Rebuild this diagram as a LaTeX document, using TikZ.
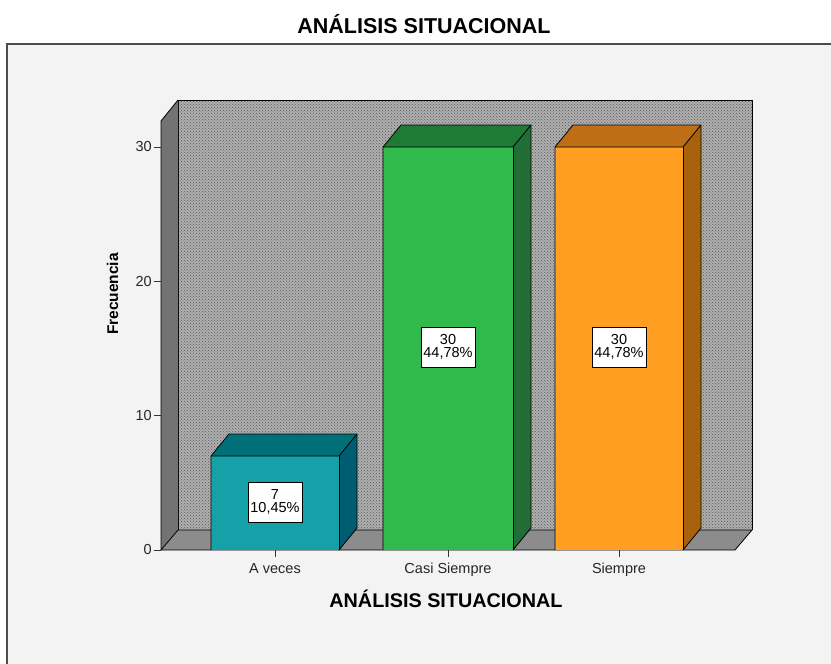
\documentclass[tikz,border=0pt]{standalone}
\usepackage{fontspec}
\setmainfont{Liberation Sans}
\usetikzlibrary{patterns}
\definecolor{bgarea}{RGB}{243,243,243}
\definecolor{wallc}{RGB}{175,175,175}
\definecolor{walldot}{RGB}{85,85,85}
\definecolor{sidewall}{RGB}{115,115,115}
\definecolor{floorc}{RGB}{140,140,140}
\definecolor{tealF}{RGB}{22,160,168}
\definecolor{tealT}{RGB}{0,112,120}
\definecolor{tealS}{RGB}{0,92,112}
\definecolor{greenF}{RGB}{48,186,76}
\definecolor{greenT}{RGB}{30,122,52}
\definecolor{greenS}{RGB}{34,108,54}
\definecolor{orangeF}{RGB}{255,158,32}
\definecolor{orangeT}{RGB}{190,110,20}
\definecolor{orangeS}{RGB}{168,98,14}
\tikzset{
  edge3d/.style={draw=black, line width=0.8pt, line join=round},
  vallabel/.style={draw=black, fill=white, line width=0.6pt, font=\fontsize{14.5}{13}\selectfont, align=center, inner xsep=2.5pt, inner ysep=7.5pt},
  ticklab/.style={font=\fontsize{14.5}{16}\selectfont, text=black!85},
  ylab/.style={font=\fontsize{14.5}{16}\selectfont, text=black!85, anchor=east, inner sep=1pt},
  tickline/.style={draw=black!80, line width=0.8pt}
}
\newcommand{\bardraw}[4]{%
  % #1 left x, #2 right x, #3 top y, #4 colour prefix
  \fill[#4F] (#1,550) rectangle (#2,#3);
  \fill[#4T] (#1,#3) -- ++(18,-22) -- (#2+18,#3-22) -- (#2,#3) -- cycle;
  \fill[#4S] (#2,#3) -- (#2+18,#3-22) -- (#2+18,528) -- (#2,550) -- cycle;
  \draw[edge3d] (#1,550) -- (#1,#3) -- (#1+18,#3-22) -- (#2+18,#3-22) -- (#2+18,528) -- (#2,550);
  \draw[edge3d] (#1,#3) -- (#2,#3) -- (#2+18,#3-22);
  \draw[edge3d] (#2,#3) -- (#2,550);
}
\begin{document}
\begin{tikzpicture}[x=1pt,y=-1pt]
\useasboundingbox (0,0) rectangle (831,664);
\fill[white] (0,0) rectangle (831,664);
% chart frame
\fill[bgarea] (7,44) rectangle (831,664);
\draw[black!70, line width=1.2pt] (7,664) -- (7,44) -- (831,44);
% title
\node[font=\bfseries\fontsize{21.5}{23}\selectfont, anchor=base] (title) at (424,33) {ANÁLISIS SITUACIONAL};
% back wall
\fill[wallc] (178,100) rectangle (752,530);
\fill[pattern=crosshatch dots, pattern color=walldot] (178,100) rectangle (752,530);
\draw[black, line width=0.8pt] (178,530) -- (178,100) -- (752,100) -- (752,530);
% left wall
\fill[sidewall] (161,550) -- (161,121) -- (178,100) -- (178,530) -- cycle;
\draw[edge3d] (161,550) -- (161,121) -- (178,100);
% floor
\fill[floorc] (161,550) -- (735,550) -- (752,530) -- (178,530) -- cycle;
\draw[edge3d] (161,550) -- (735,550) -- (752,530) -- (178,530) -- (161,550);
% bars
\bardraw{211}{339}{456}{teal}
\bardraw{383}{513}{147}{green}
\bardraw{555}{683}{147}{orange}
% value labels
\node[vallabel] (v1) at (275,502) {7\\10,45\%};
\node[vallabel] (v2) at (448,347) {30\\44,78\%};
\node[vallabel] (v3) at (619,347) {30\\44,78\%};
% y axis ticks
\foreach \v/\yy in {0/550,10/415.7,20/281.3,30/147} {
  \draw[tickline] (154,\yy) -- (161,\yy);
  \node[ylab] (yt\v) at (153,\yy) {\v};
}
% x axis ticks
\foreach \xx in {275,448,619} \draw[tickline] (\xx,550) -- (\xx,557);
\node[ticklab, anchor=base] (c1) at (275,573) {A veces};
\node[ticklab, anchor=base] (c2) at (448,573) {Casi Siempre};
\node[ticklab, anchor=base] (c3) at (619,573) {Siempre};
% axis titles
\node[font=\bfseries\fontsize{19.8}{21}\selectfont, anchor=base] (xtitle) at (446,607) {ANÁLISIS SITUACIONAL};
\node[font=\bfseries\fontsize{15.5}{17}\selectfont, anchor=base, rotate=90] (ytitle) at (118,294) {Frecuencia};
\end{tikzpicture}
\end{document}
